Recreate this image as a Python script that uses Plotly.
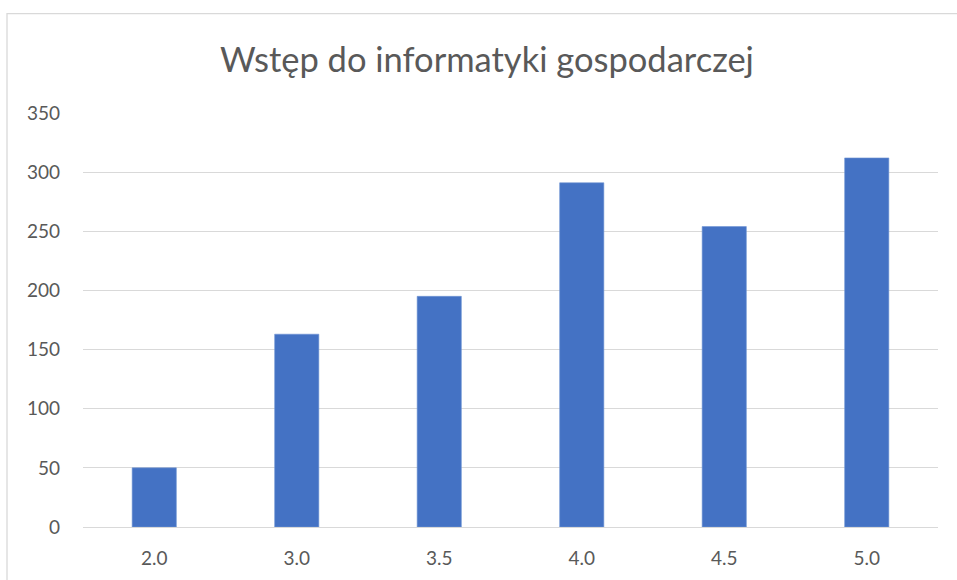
import plotly.graph_objects as go

categories = ["2.0", "3.0", "3.5", "4.0", "4.5", "5.0"]
values = [50, 163, 195, 291, 254, 312]
y_ticks = [0, 50, 100, 150, 200, 250, 300, 350]
title_text = "Wstęp do informatyki gospodarczej"

W, H = 957, 580
L, R, T, B = 83, 19, 112.5, 53
pw = W - L - R
ph = H - T - B

fig = go.Figure(go.Bar(
    x=categories, y=values,
    marker=dict(color="#4472C4", line=dict(color="#6f93d3", width=0.6)),
    hoverinfo="x+y",
))

def px_x(p):
    return (p - L) / pw

def px_y(p):
    return (H - B - p) / ph

fig.update_layout(
    width=W, height=H,
    margin=dict(l=L, r=R, t=T, b=B),
    paper_bgcolor="white", plot_bgcolor="white",
    bargap=0.69,
    showlegend=False,
    font=dict(family="Lato, Carlito, Calibri, sans-serif", color="#595959"),
    title=dict(text=title_text, x=487 / W, xanchor="center", xref="container",
               y=1 - 60 / H, yanchor="middle", yref="container",
               font=dict(size=34.5, color="#595959", family="Lato, Carlito, Calibri, sans-serif")),
    xaxis=dict(type="category", showgrid=False, showline=False, zeroline=False,
               ticks="", tickfont=dict(size=19, color="#595959"),
               ticklabelstandoff=18),
    yaxis=dict(range=[0, 350], tickvals=y_ticks, showgrid=True, gridcolor="#d9d9d9",
               gridwidth=1.2, zeroline=True, zerolinecolor="#d9d9d9", zerolinewidth=1.2,
               showline=False, ticks="", tickfont=dict(size=19, color="#595959"),
               ticklabelstandoff=22),
    shapes=[dict(type="rect", xref="paper", yref="paper",
                 x0=px_x(7), x1=px_x(W + 5), y0=px_y(13), y1=px_y(H + 5),
                 line=dict(color="#d9d9d9", width=1.3), fillcolor="rgba(0,0,0,0)",
                 layer="below")],
)

fig.write_html("out.html", config={"displayModeBar": False},
               post_script="document.body.style.margin='0';document.body.style.overflow='hidden';")
